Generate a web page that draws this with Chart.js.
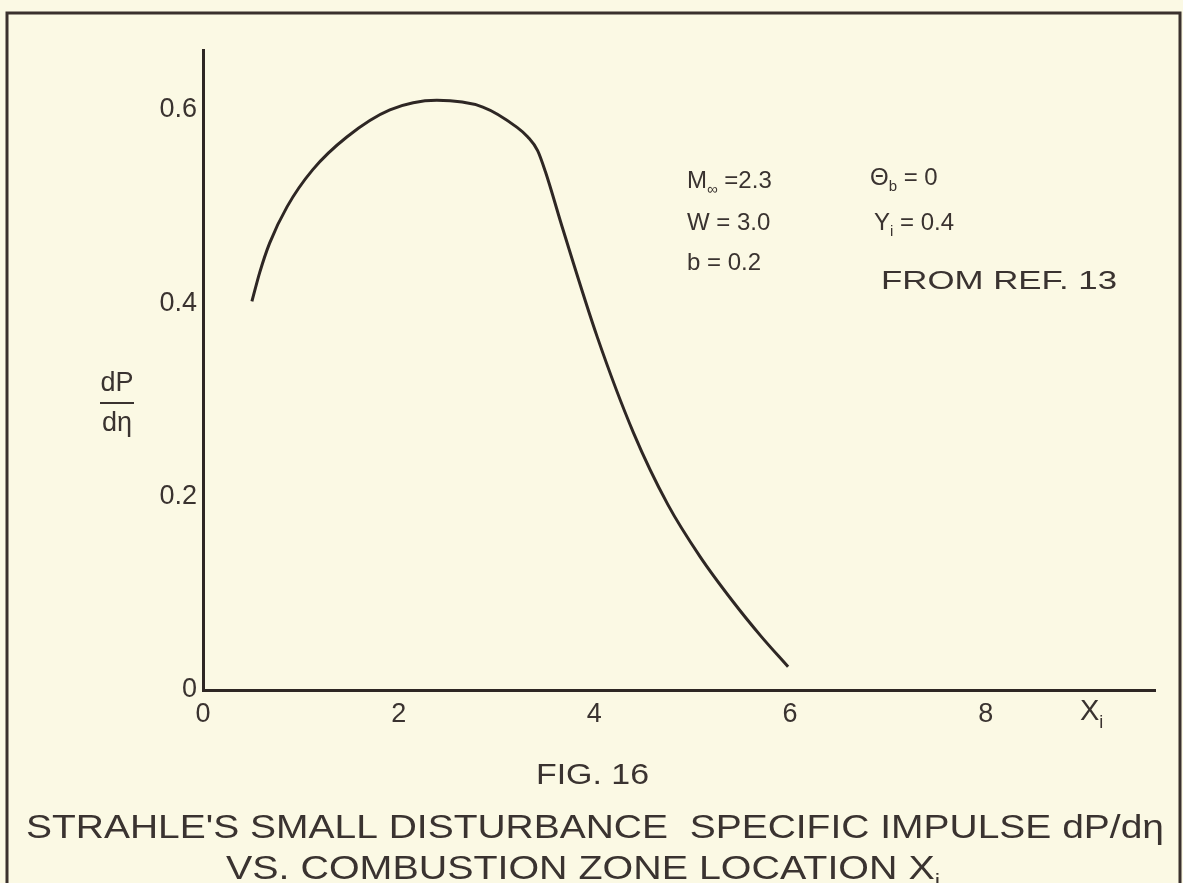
<!DOCTYPE html>
<html>
<head>
<meta charset="utf-8">
<title>Fig. 16 - Strahle's small disturbance specific impulse</title>
<script src="https://cdn.jsdelivr.net/npm/chart.js@4/dist/chart.umd.min.js"></script>
<style>
  html, body { margin: 0; padding: 0; background: #fbf9e4; }
  #wrap { width: 1183px; height: 883px; }
</style>
</head>
<body>
<div id="wrap"><canvas id="fig16" width="1183" height="883"></canvas></div>
<script>
// combustion zone location X_i
const xiValues = [0.50, 0.58, 0.68, 0.86, 1.12, 1.47, 1.91, 2.39, 2.86, 3.21, 3.32, 3.42, 3.50, 3.68, 4.03, 4.40, 4.75, 5.08, 5.42, 5.70, 5.98];
// specific impulse dP/d(eta)
const impulseValues = [0.402, 0.432, 0.462, 0.500, 0.538, 0.572, 0.600, 0.610, 0.603, 0.582, 0.572, 0.558, 0.536, 0.476, 0.365, 0.266, 0.192, 0.138, 0.091, 0.056, 0.024];

const xTicks = [0, 2, 4, 6, 8];
const yTicks = [0, 0.2, 0.4, 0.6];

const ink = "#2e2724";
const paper = "#fbf9e4";
const labelFont = "Liberation Sans, Arial, sans-serif";

// draws text made of pieces, some of them subscripts; returns width
function drawParts(ctx, parts, x, y, size, measureOnly) {
    let w = 0;
    parts.forEach((p) => {
        const sub = p[1] === "sub";
        ctx.font = (sub ? Math.round(size * 0.62) : size) + "px " + labelFont;
        if (!measureOnly) {
            ctx.fillText(p[0], x + w, sub ? y + size * 0.38 : y);
        }
        w += ctx.measureText(p[0]).width;
    });
    return w;
}

// same but squeezed/stretched to span a given width
function drawPartsFit(ctx, parts, x, y, size, width) {
    const w = drawParts(ctx, parts, 0, 0, size, true);
    ctx.save();
    ctx.translate(x, y);
    ctx.scale(width / w, 1);
    drawParts(ctx, parts, 0, 0, size, false);
    ctx.restore();
}

const paperPlugin = {
    id: "paper",
    beforeDraw(chart) {
        const ctx = chart.ctx;
        ctx.save();
        ctx.fillStyle = paper;
        ctx.fillRect(0, 0, chart.width, chart.height);
        // frame round the figure
        ctx.strokeStyle = "#3a312d";
        ctx.lineWidth = 3;
        ctx.beginPath();
        ctx.moveTo(7, 883);
        ctx.lineTo(7, 13);
        ctx.lineTo(1180, 13);
        ctx.lineTo(1180, 883);
        ctx.stroke();
        ctx.restore();
    },
    afterDraw(chart) {
        const ctx = chart.ctx;
        ctx.save();
        ctx.fillStyle = "#3a3330";
        ctx.textBaseline = "middle";
        ctx.textAlign = "left";

        // parameters
        drawParts(ctx, [["M"], ["\u221E", "sub"], [" =2.3"]], 687, 181, 24);
        drawParts(ctx, [["W = 3.0"]], 687, 223, 24);
        drawParts(ctx, [["b = 0.2"]], 687, 263, 24);
        drawParts(ctx, [["\u0398"], ["b", "sub"], [" = 0"]], 870, 178, 24);
        drawParts(ctx, [["Y"], ["i", "sub"], [" = 0.4"]], 874, 223, 24);
        drawPartsFit(ctx, [["FROM REF. 13"]], 881, 282, 25, 236);

        // y axis label dP/d(eta)
        ctx.textAlign = "center";
        ctx.font = "27px " + labelFont;
        ctx.fillText("dP", 117, 384);
        ctx.fillText("d\u03B7", 117, 424);
        ctx.strokeStyle = "#3a3330";
        ctx.lineWidth = 2;
        ctx.beginPath();
        ctx.moveTo(100, 403);
        ctx.lineTo(134, 403);
        ctx.stroke();

        // x axis label X_i
        ctx.textAlign = "left";
        drawParts(ctx, [["X"], ["i", "sub"]], 1080, 712, 29);

        // captions
        drawPartsFit(ctx, [["FIG. 16"]], 536, 776, 30, 113);
        drawPartsFit(ctx, [["STRAHLE'S SMALL DISTURBANCE  SPECIFIC IMPULSE dP/d\u03B7"]], 26, 829, 33, 1138);
        drawPartsFit(ctx, [["VS. COMBUSTION ZONE LOCATION X"], ["i", "sub"]], 226, 870, 33, 714);
        ctx.restore();
    },
};

const points = xiValues.map((x, i) => ({ x: x, y: impulseValues[i] }));

new Chart(document.getElementById("fig16").getContext("2d"), {
    type: "line",
    data: {
        datasets: [
            {
                data: points,
                borderColor: ink,
                borderWidth: 3,
                pointRadius: 0,
                fill: false,
                cubicInterpolationMode: "monotone",
            },
        ],
    },
    options: {
        responsive: false,
        animation: false,
        layout: { padding: { top: 50, right: 28, left: 0, bottom: 0 } },
        plugins: {
            legend: { display: false },
            tooltip: { enabled: false },
        },
        scales: {
            x: {
                type: "linear",
                min: 0,
                max: 9.73,
                afterFit: (s) => { s.height = 193; },
                afterBuildTicks: (s) => { s.ticks = xTicks.map((v) => ({ value: v })); },
                grid: { display: false, drawTicks: false },
                border: { display: true, color: ink, width: 3 },
                ticks: {
                    color: "#3a3330",
                    padding: 8,
                    font: { family: labelFont, size: 27 },
                    callback: (v) => String(v),
                },
            },
            y: {
                type: "linear",
                min: 0,
                max: 0.662,
                afterFit: (s) => { s.width = 203; },
                afterBuildTicks: (s) => { s.ticks = yTicks.map((v) => ({ value: v })); },
                grid: { display: false, drawTicks: false },
                border: { display: true, color: ink, width: 3 },
                ticks: {
                    color: "#3a3330",
                    padding: 6,
                    font: { family: labelFont, size: 27 },
                    callback: (v) => (v === 0 ? "0" : v.toFixed(1)),
                },
            },
        },
    },
    plugins: [paperPlugin],
});
</script>
</body>
</html>
